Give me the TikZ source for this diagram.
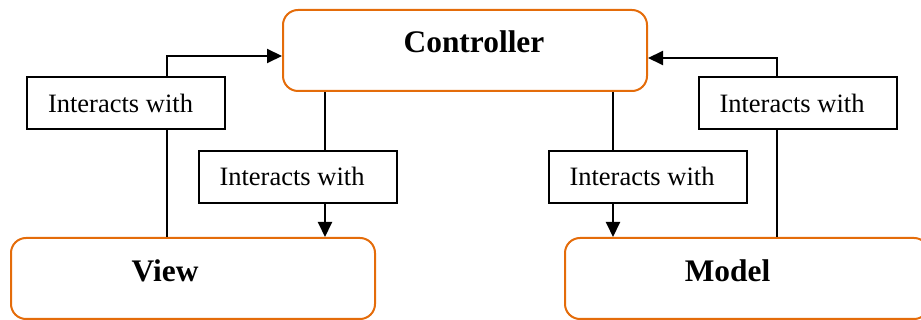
\documentclass[tikz,border=0pt]{standalone}
\usepackage{fontspec}
\setmainfont{Liberation Serif}
\usetikzlibrary{arrows.meta,calc}
\definecolor{boxorange}{RGB}{228,108,10}
\begin{document}
\begin{tikzpicture}[x=0.5pt,y=-0.5pt,
  bigbox/.style={draw=boxorange,line width=1pt,rounded corners=7.5pt,inner sep=0pt,
    minimum width=182pt,minimum height=40.5pt},
  bigtext/.style={inner sep=0pt,anchor=base,font=\fontsize{15.7}{18}\selectfont\bfseries},
  smallbox/.style={draw=black,line width=1pt,fill=white,inner sep=0pt,
    minimum width=99pt,minimum height=26pt},
  smalltext/.style={inner sep=0pt,anchor=base,font=\fontsize{13.25}{15}\selectfont},
  conn/.style={draw=black,line width=1pt},
  arr/.style={conn,-{Triangle[length=7.5pt,width=7pt]}}]
\useasboundingbox (0,0) rectangle (921,320);
% main boxes
\node[bigbox] (ctrl) at (465,50.5) {};
\node[bigbox] (view) at (193,278.5) {};
\node[bigbox] (model) at (747,278.5) {};
\node[bigtext] (ctrlt) at (474,53) {Controller};
\node[bigtext] (viewt) at (165,282) {View};
\node[bigtext] (modelt) at (727.5,282) {Model};
% connectors
\coordinate (va) at ($(view.north)+(-26,0)$);
\coordinate (ca) at ($(ctrl.west)+(0,5.5)$);
\draw[arr] (va) |- (ca);
\coordinate (cb) at ($(ctrl.south)+(-140,0)$);
\draw[arr] (cb) -- (cb |- view.north);
\coordinate (cc) at ($(ctrl.south)+(148,0)$);
\draw[arr] (cc) -- (cc |- model.north);
\coordinate (ma) at ($(model.north)+(30,0)$);
\coordinate (cd) at ($(ctrl.east)+(0,7.5)$);
\draw[arr] (ma) |- (cd);
% label boxes
\node[smallbox] (b1) at (126,103) {};
\node[smallbox] (b2) at (298,177) {};
\node[smallbox] (b3) at (648,177) {};
\node[smallbox] (b4) at (797.5,103) {};
\node[smalltext] (t1) at (120.5,113) {Interacts with};
\node[smalltext] (t2) at (292,186) {Interacts with};
\node[smalltext] (t3) at (642,186) {Interacts with};
\node[smalltext] (t4) at (792,113) {Interacts with};
\end{tikzpicture}
\end{document}
